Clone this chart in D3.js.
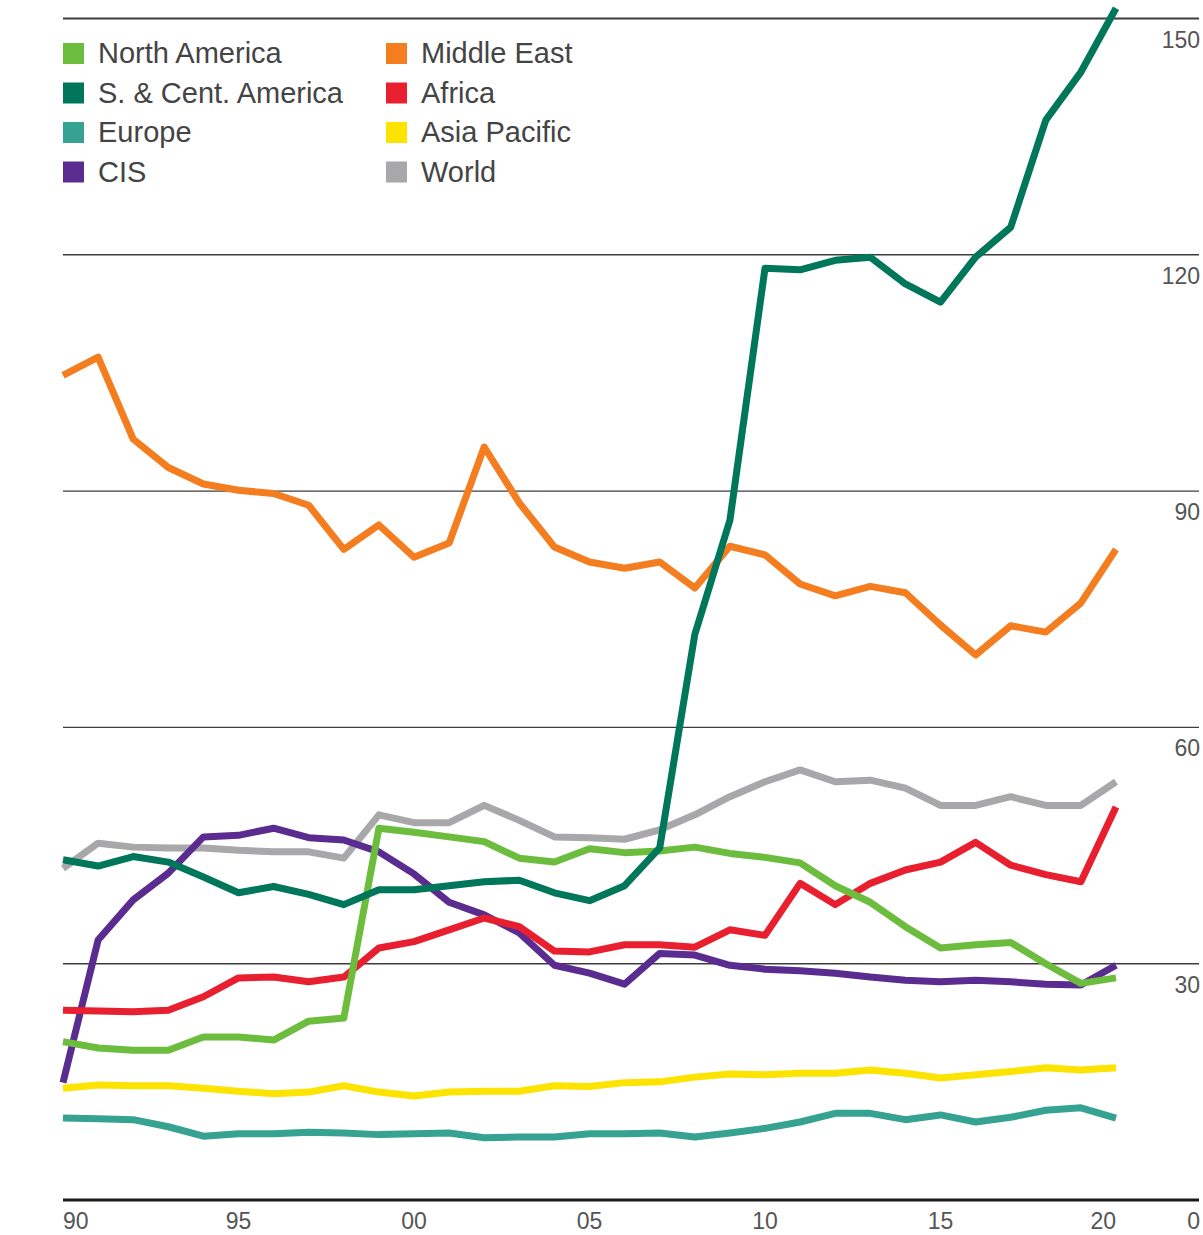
<!DOCTYPE html>
<html>
<head>
<meta charset="utf-8">
<script src="https://cdn.jsdelivr.net/npm/d3@7"></script>
<style>
  body { margin: 0; background: #fff; }
  text { font-family: "Liberation Sans", Arial, sans-serif; }
</style>
</head>
<body>
<script>
var years = d3.range(1990, 2021)

var northAmerica = [20.1, 19.3, 19.0, 19.0, 20.7, 20.7, 20.3, 22.7, 23.1, 47.2, 46.7, 46.1, 45.5, 43.4, 42.9, 44.6, 44.1, 44.3, 44.8, 44.0, 43.5, 42.8, 39.9, 37.8, 34.7, 32.0, 32.4, 32.7, 30.0, 27.5, 28.2]
var sCentAmerica = [43.2, 42.4, 43.6, 42.9, 41.0, 39.0, 39.8, 38.8, 37.5, 39.4, 39.4, 39.9, 40.4, 40.6, 39.0, 38.0, 39.9, 44.7, 71.8, 86.3, 118.3, 118.1, 119.3, 119.7, 116.3, 114.0, 119.7, 123.5, 137.1, 143.2, 151.3]
var europe = [10.4, 10.3, 10.2, 9.3, 8.1, 8.4, 8.4, 8.6, 8.5, 8.3, 8.4, 8.5, 7.9, 8.0, 8.0, 8.4, 8.4, 8.5, 8.0, 8.5, 9.1, 9.9, 11.0, 11.0, 10.2, 10.8, 9.9, 10.5, 11.4, 11.7, 10.4]
var cis = [14.9, 33.0, 38.1, 41.5, 46.1, 46.3, 47.2, 46.0, 45.7, 44.2, 41.4, 37.8, 36.2, 33.9, 29.8, 28.8, 27.4, 31.3, 31.1, 29.8, 29.3, 29.1, 28.8, 28.3, 27.9, 27.7, 27.9, 27.7, 27.4, 27.3, 29.8]
var middleEast = [104.7, 107.0, 96.6, 93.0, 90.9, 90.1, 89.7, 88.2, 82.6, 85.7, 81.6, 83.4, 95.6, 88.5, 82.9, 81.0, 80.2, 81.0, 77.7, 83.0, 81.9, 78.2, 76.7, 77.9, 77.1, 73.0, 69.2, 72.9, 72.1, 75.8, 82.6]
var africa = [24.1, 24.0, 23.9, 24.1, 25.8, 28.2, 28.3, 27.7, 28.3, 32.0, 32.8, 34.3, 35.8, 34.7, 31.6, 31.5, 32.4, 32.4, 32.1, 34.3, 33.6, 40.2, 37.5, 40.2, 41.9, 42.9, 45.4, 42.5, 41.3, 40.4, 49.9]
var asiaPacific = [14.2, 14.6, 14.5, 14.5, 14.2, 13.8, 13.5, 13.7, 14.5, 13.7, 13.2, 13.7, 13.8, 13.8, 14.5, 14.4, 14.9, 15.0, 15.6, 16.0, 15.9, 16.1, 16.1, 16.5, 16.1, 15.5, 15.9, 16.3, 16.8, 16.5, 16.8]
var world = [42.1, 45.3, 44.8, 44.7, 44.7, 44.4, 44.2, 44.2, 43.4, 48.9, 47.9, 47.9, 50.1, 48.2, 46.1, 46.0, 45.8, 47.0, 48.9, 51.2, 53.1, 54.6, 53.1, 53.3, 52.3, 50.1, 50.1, 51.2, 50.1, 50.1, 53.1]

var yTicks = [0, 30, 60, 90, 120, 150]
var xTicks = [1990, 1995, 2000, 2005, 2010, 2015, 2020]

var series = [
  {name: "North America", color: "#6cbd3e", data: northAmerica},
  {name: "S. & Cent. America", color: "#00765a", data: sCentAmerica},
  {name: "Europe", color: "#36a291", data: europe},
  {name: "CIS", color: "#5b2c90", data: cis},
  {name: "Middle East", color: "#f47d20", data: middleEast},
  {name: "Africa", color: "#e81f2e", data: africa},
  {name: "Asia Pacific", color: "#fde300", data: asiaPacific},
  {name: "World", color: "#a8a8aa", data: world}
]
// drawing order, bottom first
var drawOrder = ["World", "Europe", "Asia Pacific", "CIS", "Africa", "Middle East", "North America", "S. & Cent. America"]

var width = 1203, height = 1235

var svg = d3.select("body").append("svg")
    .attr("width", width)
    .attr("height", height)

var x = d3.scaleLinear().domain([1990, 2020]).range([63, 1116])
var y = d3.scaleLinear().domain([0, 150]).range([1200, 18.5])

// gridlines
svg.selectAll(".grid")
  .data(yTicks)
  .enter()
  .append("line")
    .attr("x1", 63)
    .attr("x2", 1199)
    .attr("y1", function(d) { return y(d) })
    .attr("y2", function(d) { return y(d) })
    .attr("stroke", function(d) { return d == 0 ? "#1a1a1a" : "#3d3d3d" })
    .attr("stroke-width", function(d) { return d == 0 ? 3 : (d == 150 ? 2 : 1.4) })

// right hand value labels
svg.selectAll(".ylab")
  .data(yTicks)
  .enter()
  .append("text")
    .attr("x", 1200)
    .attr("y", function(d) { return d == 0 ? 1229 : y(d) + 29 })
    .attr("text-anchor", "end")
    .attr("fill", "#555")
    .style("font-size", "23px")
    .text(function(d) { return d })

// year labels
svg.selectAll(".xlab")
  .data(xTicks)
  .enter()
  .append("text")
    .attr("x", function(d) { return x(d) })
    .attr("y", 1229)
    .attr("text-anchor", function(d, i) { return i == 0 ? "start" : (i == xTicks.length - 1 ? "end" : "middle") })
    .attr("fill", "#555")
    .style("font-size", "23px")
    .text(function(d) { return String(d % 100).padStart(2, "0") })

var line = d3.line()
    .x(function(d, i) { return x(years[i]) })
    .y(function(d) { return y(d) })

drawOrder.forEach(function(name) {
  var s = series.find(function(k) { return k.name == name })
  svg.append("path")
      .datum(s.data)
      .attr("fill", "none")
      .attr("stroke", s.color)
      .attr("stroke-width", 7)
      .attr("stroke-linejoin", "round")
      .attr("d", line)
})

// legend, two columns of four
var size = 21
var legend = svg.selectAll(".legend")
  .data(series)
  .enter()
  .append("g")
    .attr("transform", function(d, i) {
      var col = Math.floor(i / 4), row = i % 4
      return "translate(" + (63 + col * 323) + "," + (43 + row * 39.5) + ")"
    })

legend.append("rect")
    .attr("width", size)
    .attr("height", size)
    .attr("fill", function(d) { return d.color })

legend.append("text")
    .attr("x", 35)
    .attr("y", 20)
    .attr("fill", "#444")
    .style("font-size", "29px")
    .text(function(d) { return d.name })
</script>
</body>
</html>
